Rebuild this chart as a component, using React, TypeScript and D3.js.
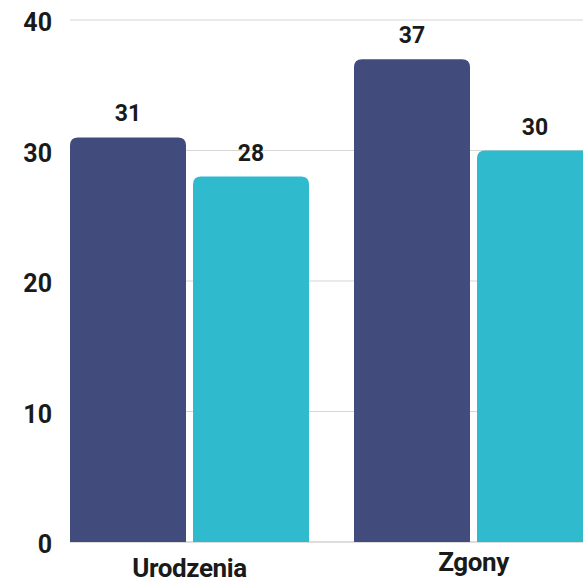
import React from "react";
import * as d3 from "d3";

const categories = ["Urodzenia", "Zgony"];
const seriesNames = ["A", "B"];
const seriesA = [31, 37];
const seriesB = [28, 30];
const yTicks = [0, 10, 20, 30, 40];

const W = 583;
const H = 582;
const colors = ["#424c7c", "#30bacd"];

function topRoundedRect(x: number, y: number, w: number, h: number, r: number) {
  const rr = Math.min(r, w / 2, h);
  return `M${x},${y + h}V${y + rr}Q${x},${y} ${x + rr},${y}H${x + w - rr}Q${x + w},${y} ${x + w},${y + rr}V${y + h}Z`;
}

export default function App() {
  const y = d3.scaleLinear().domain([0, 40]).range([542, 20]);
  const x0 = d3.scaleBand<string>().domain(categories).range([70, 593]).paddingInner(45 / 284).paddingOuter(0);
  const x1 = d3.scaleBand<string>().domain(seriesNames).range([0, x0.bandwidth()]).paddingInner(7 / 123).paddingOuter(0);
  const values = [seriesA, seriesB];
  const font = "Roboto, 'Noto Sans', sans-serif";

  return (
    <svg width={W} height={H} style={{ position: "absolute", left: 0, top: 0, background: "#fff" }} fontFamily={font}>
      {yTicks.map((t) => (
        <g key={t}>
          <line x1={70} x2={W} y1={y(t)} y2={y(t)} stroke={t === 0 ? "#bbb" : "#d6d6d6"} strokeWidth={1.2} />
          <text x={52} y={y(t) + 11} textAnchor="end" fontSize={25} fontWeight={700} fill="#1a1a1a">
            {t}
          </text>
        </g>
      ))}
      {categories.map((c, ci) => (
        <g key={c} transform={`translate(${x0(c)},0)`}>
          {seriesNames.map((s, si) => {
            const v = values[si][ci];
            const bx = x1(s) as number;
            const bw = x1.bandwidth();
            return (
              <g key={s}>
                <path d={topRoundedRect(bx, y(v), bw, y(0) - y(v), 8)} fill={colors[si]} />
                <text x={bx + bw / 2} y={y(v) - 16} textAnchor="middle" fontSize={23} fontWeight={700} fill="#1a1a1a">
                  {v}
                </text>
              </g>
            );
          })}
          <text x={x0.bandwidth() / 2} y={ci === 0 ? 577 : 571} textAnchor="middle" fontSize={26} fontWeight={700} fill="#1a1a1a" letterSpacing={-0.4}>
            {c}
          </text>
        </g>
      ))}
    </svg>
  );
}
